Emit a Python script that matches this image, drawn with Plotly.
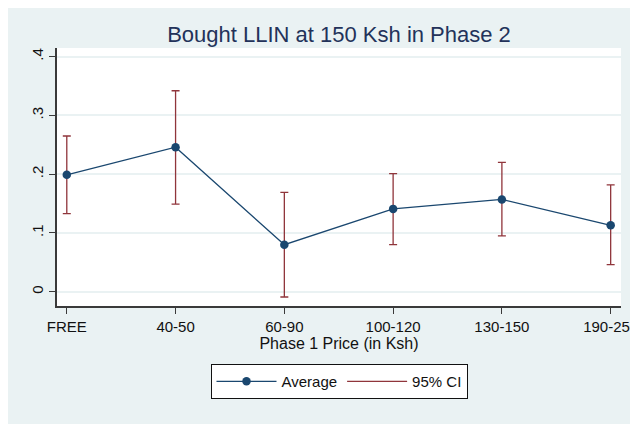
import plotly.graph_objects as go

# Phase 1 price groups and share that bought an LLIN at 150 Ksh in phase 2
categories = ["FREE", "40-50", "60-90", "100-120", "130-150", "190-250"]
average = [0.199, 0.246, 0.080, 0.141, 0.157, 0.113]
ci_lower = [0.133, 0.149, -0.009, 0.080, 0.095, 0.046]
ci_upper = [0.265, 0.342, 0.169, 0.201, 0.220, 0.182]

y_ticks = [0, 0.1, 0.2, 0.3, 0.4]
y_labels = ["0", ".1", ".2", ".3", ".4"]

NAVY = "#1a476f"
MAROON = "#90353b"
BG = "#eaf2f3"

# the page adds its own 8px body margin at top/left
W, H = 638, 424
L, R, T, B = 49, 25, 40, 126
pw, ph = W - L - R, H - T - B

fig = go.Figure()

# CI bars (drawn first so the mean line sits on top)
fig.add_trace(go.Scatter(
    x=categories, y=average, mode="markers",
    marker=dict(size=1, opacity=0),
    error_y=dict(type="data", symmetric=False,
                 array=[u - a for u, a in zip(ci_upper, average)],
                 arrayminus=[a - l for a, l in zip(average, ci_lower)],
                 color=MAROON, thickness=1.3, width=4),
    showlegend=False, hoverinfo="skip",
))

fig.add_trace(go.Scatter(
    x=categories, y=average, mode="lines+markers", name="Average",
    line=dict(color=NAVY, width=1.3),
    marker=dict(color=NAVY, size=8.5),
))

# legend entry for the CI
fig.add_trace(go.Scatter(
    x=[None], y=[None], mode="lines", name="95% CI",
    line=dict(color=MAROON, width=1.3),
))

fig.update_layout(
    width=W, height=H,
    margin=dict(l=L, r=R, t=T, b=B, autoexpand=False),
    paper_bgcolor=BG, plot_bgcolor="white",
    font=dict(family="Liberation Sans, Arial, sans-serif", size=15, color="#111"),
    title=dict(text="Bought LLIN at 150 Ksh in Phase 2", x=(L + pw / 2) / W,
               xanchor="center", y=1 - 26 / H, yanchor="middle",
               font=dict(size=22, color="#23325a")),
    legend=dict(orientation="h", x=0.5, xanchor="center", y=-0.225, yanchor="top",
                bgcolor="white", bordercolor="#111", borderwidth=1,
                font=dict(size=15), traceorder="normal",
                itemwidth=60),
    showlegend=True,
)

fig.update_xaxes(
    type="category", range=[-0.09, 5.095], automargin=False,
    showgrid=False, showline=True, linecolor="#3a3a3a", linewidth=1.5,
    ticks="outside", ticklen=6, tickcolor="#3a3a3a", tickfont=dict(size=15),
    title=dict(text="Phase 1 Price (in Ksh)", standoff=2, font=dict(size=16)),
)
fig.update_yaxes(
    range=[-0.0243, 0.4148], automargin=False,
    tickvals=y_ticks, ticktext=y_labels, tickangle=-90, tickfont=dict(size=15),
    showgrid=True, gridcolor=BG, gridwidth=1.5, zeroline=False,
    showline=True, linecolor="#3a3a3a", linewidth=1.5,
    ticks="outside", ticklen=6, tickcolor="#3a3a3a",
)

fig.write_html("out.html")
